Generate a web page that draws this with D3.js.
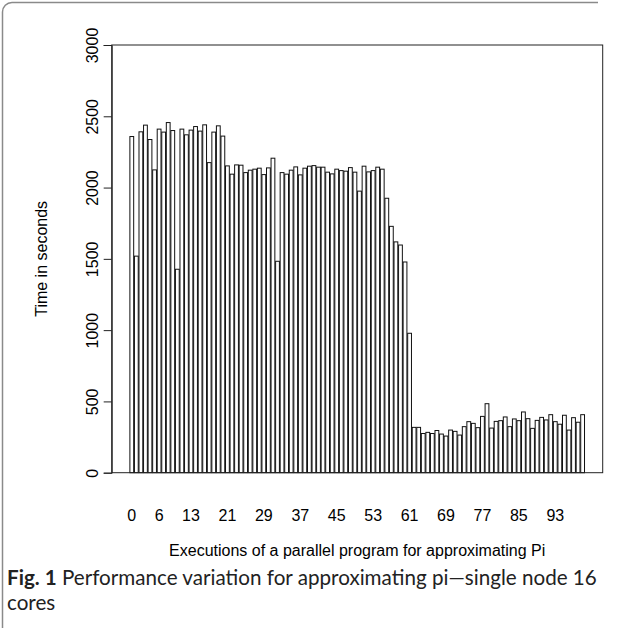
<!DOCTYPE html>
<html>
<head>
<meta charset="utf-8">
<script src="https://cdn.jsdelivr.net/npm/d3@7"></script>
<style>
  html, body { margin: 0; padding: 0; background: #fff; }
  svg { display: block; }
</style>
</head>
<body>
<svg id="chart" width="623" height="628"></svg>
<script>
// Run index of each execution (bar names)
const categories = d3.range(100);

// Wall-clock time of each run, in seconds
const times = [
  2358, 1519, 2391, 2438, 2337, 2124, 2410, 2389, 2456, 2400,
  1427, 2410, 2370, 2403, 2428, 2396, 2440, 2175, 2389, 2433,
  2361, 2152, 2094, 2159, 2157, 2105, 2122, 2129, 2136, 2091,
  2138, 2206, 1483, 2105, 2094, 2122, 2145, 2089, 2136, 2150,
  2154, 2143, 2143, 2108, 2096, 2129, 2119, 2115, 2140, 2108,
  1975, 2150, 2110, 2119, 2143, 2129, 1925, 1728, 1619, 1597,
  1478,  978,  318,  318,  275,  283,  275,  296,  271,  257,
   299,  290,  264,  323,  358,  346,  316,  395,  484,  313,
   360,  365,  391,  323,  377,  365,  426,  379,  311,  367,
   388,  370,  407,  358,  340,  403,  299,  386,  354,  407
];

// Labels that fit under the bars
const xTickLabels = [0, 6, 13, 21, 29, 37, 45, 53, 61, 69, 77, 85, 93];
const yTicks = [0, 500, 1000, 1500, 2000, 2500, 3000];

const yTitle = "Time in seconds";
const xTitle = "Executions of a parallel program for approximating Pi";
const captionBold = "Fig. 1";
const captionRest = " Performance variation for approximating pi\u2014single node 16";
const captionLine2 = "cores";

const svg = d3.select("#chart");
const plot = { left: 111.7, right: 602.7, top: 45, bottom: 472.7 };
const chartFont = "'Liberation Sans', Arial, Helvetica, sans-serif";
const captionFont = "Lato, 'Open Sans', sans-serif";
const labelSize = 16;

// Figure frame (top and left edge, rounded corner)
svg.append("path")
  .attr("d", `M598,2.5 H12 A9.5,9.5 0 0 0 2.5,12 V628`)
  .attr("fill", "none")
  .attr("stroke", "#8a8a8a")
  .attr("stroke-width", 1.5);

// Bars: width 1, gap 0.2, plus 4% axis extension on each side
const x = d3.scaleBand()
  .domain(categories)
  .range([plot.left, plot.right])
  .paddingInner(0.2 / 1.2)
  .paddingOuter(4.792 / 1.2);

const y = d3.scaleLinear()
  .domain([0, 3000])
  .range([plot.bottom, plot.top]);

svg.append("g")
  .selectAll("rect")
  .data(times)
  .join("rect")
  .attr("x", (d, i) => x(categories[i]))
  .attr("y", d => y(d))
  .attr("width", x.bandwidth())
  .attr("height", d => y(0) - y(d))
  .attr("fill", "#fff")
  .attr("stroke", "#111")
  .attr("stroke-width", 1);

// Plot box
svg.append("rect")
  .attr("x", plot.left)
  .attr("y", plot.top)
  .attr("width", plot.right - plot.left)
  .attr("height", plot.bottom - plot.top)
  .attr("fill", "none")
  .attr("stroke", "#222")
  .attr("stroke-width", 1);

// Y axis
const yAxis = svg.append("g")
  .attr("transform", `translate(${plot.left},0)`)
  .call(d3.axisLeft(y).tickValues(yTicks).tickSize(8).tickPadding(0).tickFormat(d3.format("d")));
yAxis.select(".domain").attr("stroke", "#222");
yAxis.selectAll(".tick line").attr("stroke", "#222");
yAxis.selectAll(".tick text")
  .attr("font-family", chartFont)
  .attr("font-size", labelSize)
  .attr("fill", "#000")
  .attr("x", null)
  .attr("text-anchor", "middle")
  .attr("transform", "translate(-19,0) rotate(-90)")
  .attr("y", 0)
  .attr("dy", "0.35em");

// X tick labels (no axis line)
const xAxis = svg.append("g")
  .attr("transform", `translate(0,${plot.bottom})`)
  .call(d3.axisBottom(x).tickValues(xTickLabels).tickSize(0).tickPadding(0));
xAxis.select(".domain").remove();
xAxis.selectAll(".tick text")
  .attr("font-family", chartFont)
  .attr("font-size", labelSize)
  .attr("fill", "#000")
  .attr("y", 43)
  .attr("dy", "0.35em");

// Axis titles
svg.append("text")
  .attr("transform", `translate(41,${(plot.top + plot.bottom) / 2}) rotate(-90)`)
  .attr("text-anchor", "middle")
  .attr("dy", "0.35em")
  .attr("font-family", chartFont)
  .attr("font-size", labelSize)
  .attr("fill", "#000")
  .text(yTitle);

svg.append("text")
  .attr("x", (plot.left + plot.right) / 2)
  .attr("y", plot.bottom + 78)
  .attr("text-anchor", "middle")
  .attr("dy", "0.35em")
  .attr("font-family", chartFont)
  .attr("font-size", labelSize)
  .attr("fill", "#000")
  .text(xTitle);

// Caption, sized to span the figure width
const capY = 585;
const cap = svg.append("text")
  .attr("x", 7)
  .attr("y", capY)
  .attr("font-family", captionFont)
  .attr("font-size", 20)
  .attr("fill", "#222");
cap.append("tspan").attr("font-weight", "bold").text(captionBold);
cap.append("tspan").text(captionRest);
const capWidth = cap.node().getComputedTextLength();
const capSize = 20 * 590 / capWidth;
cap.attr("font-size", capSize);

svg.append("text")
  .attr("x", 7)
  .attr("y", capY + 25)
  .attr("font-family", captionFont)
  .attr("font-size", capSize)
  .attr("fill", "#222")
  .text(captionLine2);
</script>
</body>
</html>
